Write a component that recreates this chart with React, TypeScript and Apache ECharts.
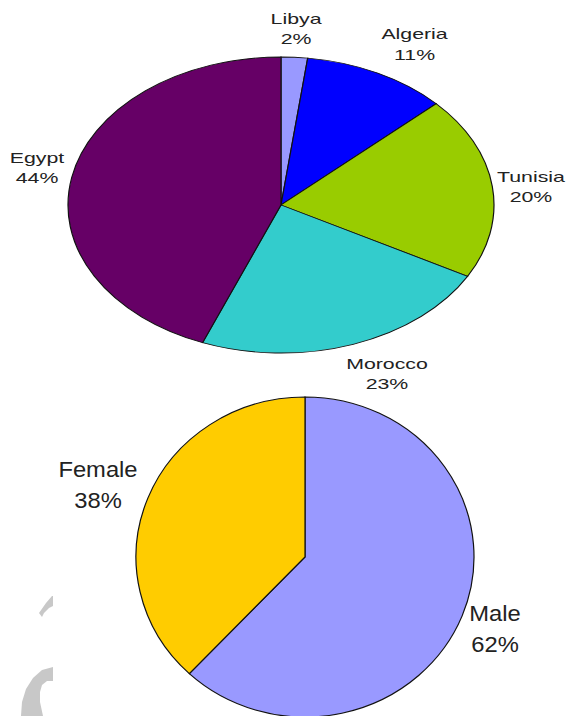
import React, { useEffect, useRef } from "react";
import * as echarts from "echarts";

// ---- data ----
const topCategories = ["Libya", "Algeria", "Tunisia", "Morocco", "Egypt"];
const topValues = [2, 11, 20, 23, 44];
const topColors = ["#9999ff", "#0000ff", "#99cc00", "#33cccc", "#660066"];

const bottomCategories = ["Male", "Female"];
const bottomValues = [62, 38];
const bottomColors = ["#9999ff", "#ffcc00"];

// ---- layout (styles / positions) ----
const topLayout = {
  cx: 281, cy: 205, rx: 213, ry: 148, labelK: 1.2,
  fontSize: 15, lineHeight: 20.5, textScaleX: 1.42,
  nudges: [[-1, 1], [17.5, -2.5], [-3.6, 3.8], [19.4, 1.4], [7.1, -4]],
};
const bottomLayout = {
  cx: 305, cy: 557, rx: 169, ry: 160, labelK: 1.15,
  fontSize: 22, lineHeight: 31, textScaleX: 1.08,
  nudges: [[9.3, 4.3], [-26.3, -4.8]],
};

function makePieSeries(names: string[], values: number[], colors: string[], L: any) {
  const total = values.reduce((a, b) => a + b, 0);
  return {
    type: "custom",
    coordinateSystem: "none",
    data: values.map((v, i) => ({ name: names[i], value: v })),
    renderItem: (params: any, api: any) => {
      const i = params.dataIndex;
      const v = api.value(0);
      let before = 0;
      for (let k = 0; k < i; k++) before += values[k];
      const f0 = before / total;
      const f1 = (before + v) / total;
      const a0 = -Math.PI / 2 + f0 * Math.PI * 2;
      const a1 = -Math.PI / 2 + f1 * Math.PI * 2;
      const mid = (f0 + f1) / 2 * Math.PI * 2;
      const nx = L.rx * L.labelK * Math.sin(mid) + L.nudges[i][0];
      const ny = -L.ry * L.labelK * Math.cos(mid) + L.nudges[i][1];
      const pct = Math.round((v / total) * 100);
      return {
        type: "group",
        x: L.cx,
        y: L.cy,
        children: [
          {
            type: "sector",
            scaleY: L.ry / L.rx,
            shape: { cx: 0, cy: 0, r0: 0, r: L.rx, startAngle: a0, endAngle: a1, clockwise: true },
            style: { fill: colors[i], stroke: "#111", lineWidth: 1.2, strokeNoScale: true },
          },
          {
            type: "text",
            x: nx,
            y: ny,
            scaleX: L.textScaleX,
            style: {
              text: names[i] + "\n" + pct + "%",
              fill: "#222",
              fontFamily: "Liberation Sans, Arial, sans-serif",
              fontSize: L.fontSize,
              lineHeight: L.lineHeight,
              align: "center",
              verticalAlign: "middle",
            },
          },
        ],
      };
    },
  };
}

export default function App() {
  const ref = useRef<HTMLDivElement>(null);
  useEffect(() => {
    document.body.style.margin = "0";
    const chart = echarts.init(ref.current!, null, { renderer: "svg" });
    chart.setOption({
      animation: false,
      backgroundColor: "#ffffff",
      graphic: [
        {
          type: "polygon",
          shape: { points: [[39, 613], [46, 603], [52, 596], [53, 596], [53, 606], [49, 608], [44, 613], [42, 617]] },
          style: { fill: "#c8c8c8" },
        },
        {
          type: "polygon",
          shape: {
            points: [[21, 716], [22, 702], [26, 689], [33, 678], [42, 670], [53, 667], [53, 681], [47, 681], [42, 685], [40, 692], [40, 702], [43, 716]],
          },
          style: { fill: "#c8c8c8" },
        },
      ],
      series: [
        makePieSeries(topCategories, topValues, topColors, topLayout),
        makePieSeries(bottomCategories, bottomValues, bottomColors, bottomLayout),
      ],
    });
    return () => chart.dispose();
  }, []);
  return <div ref={ref} style={{ width: 569, height: 716 }} />;
}
